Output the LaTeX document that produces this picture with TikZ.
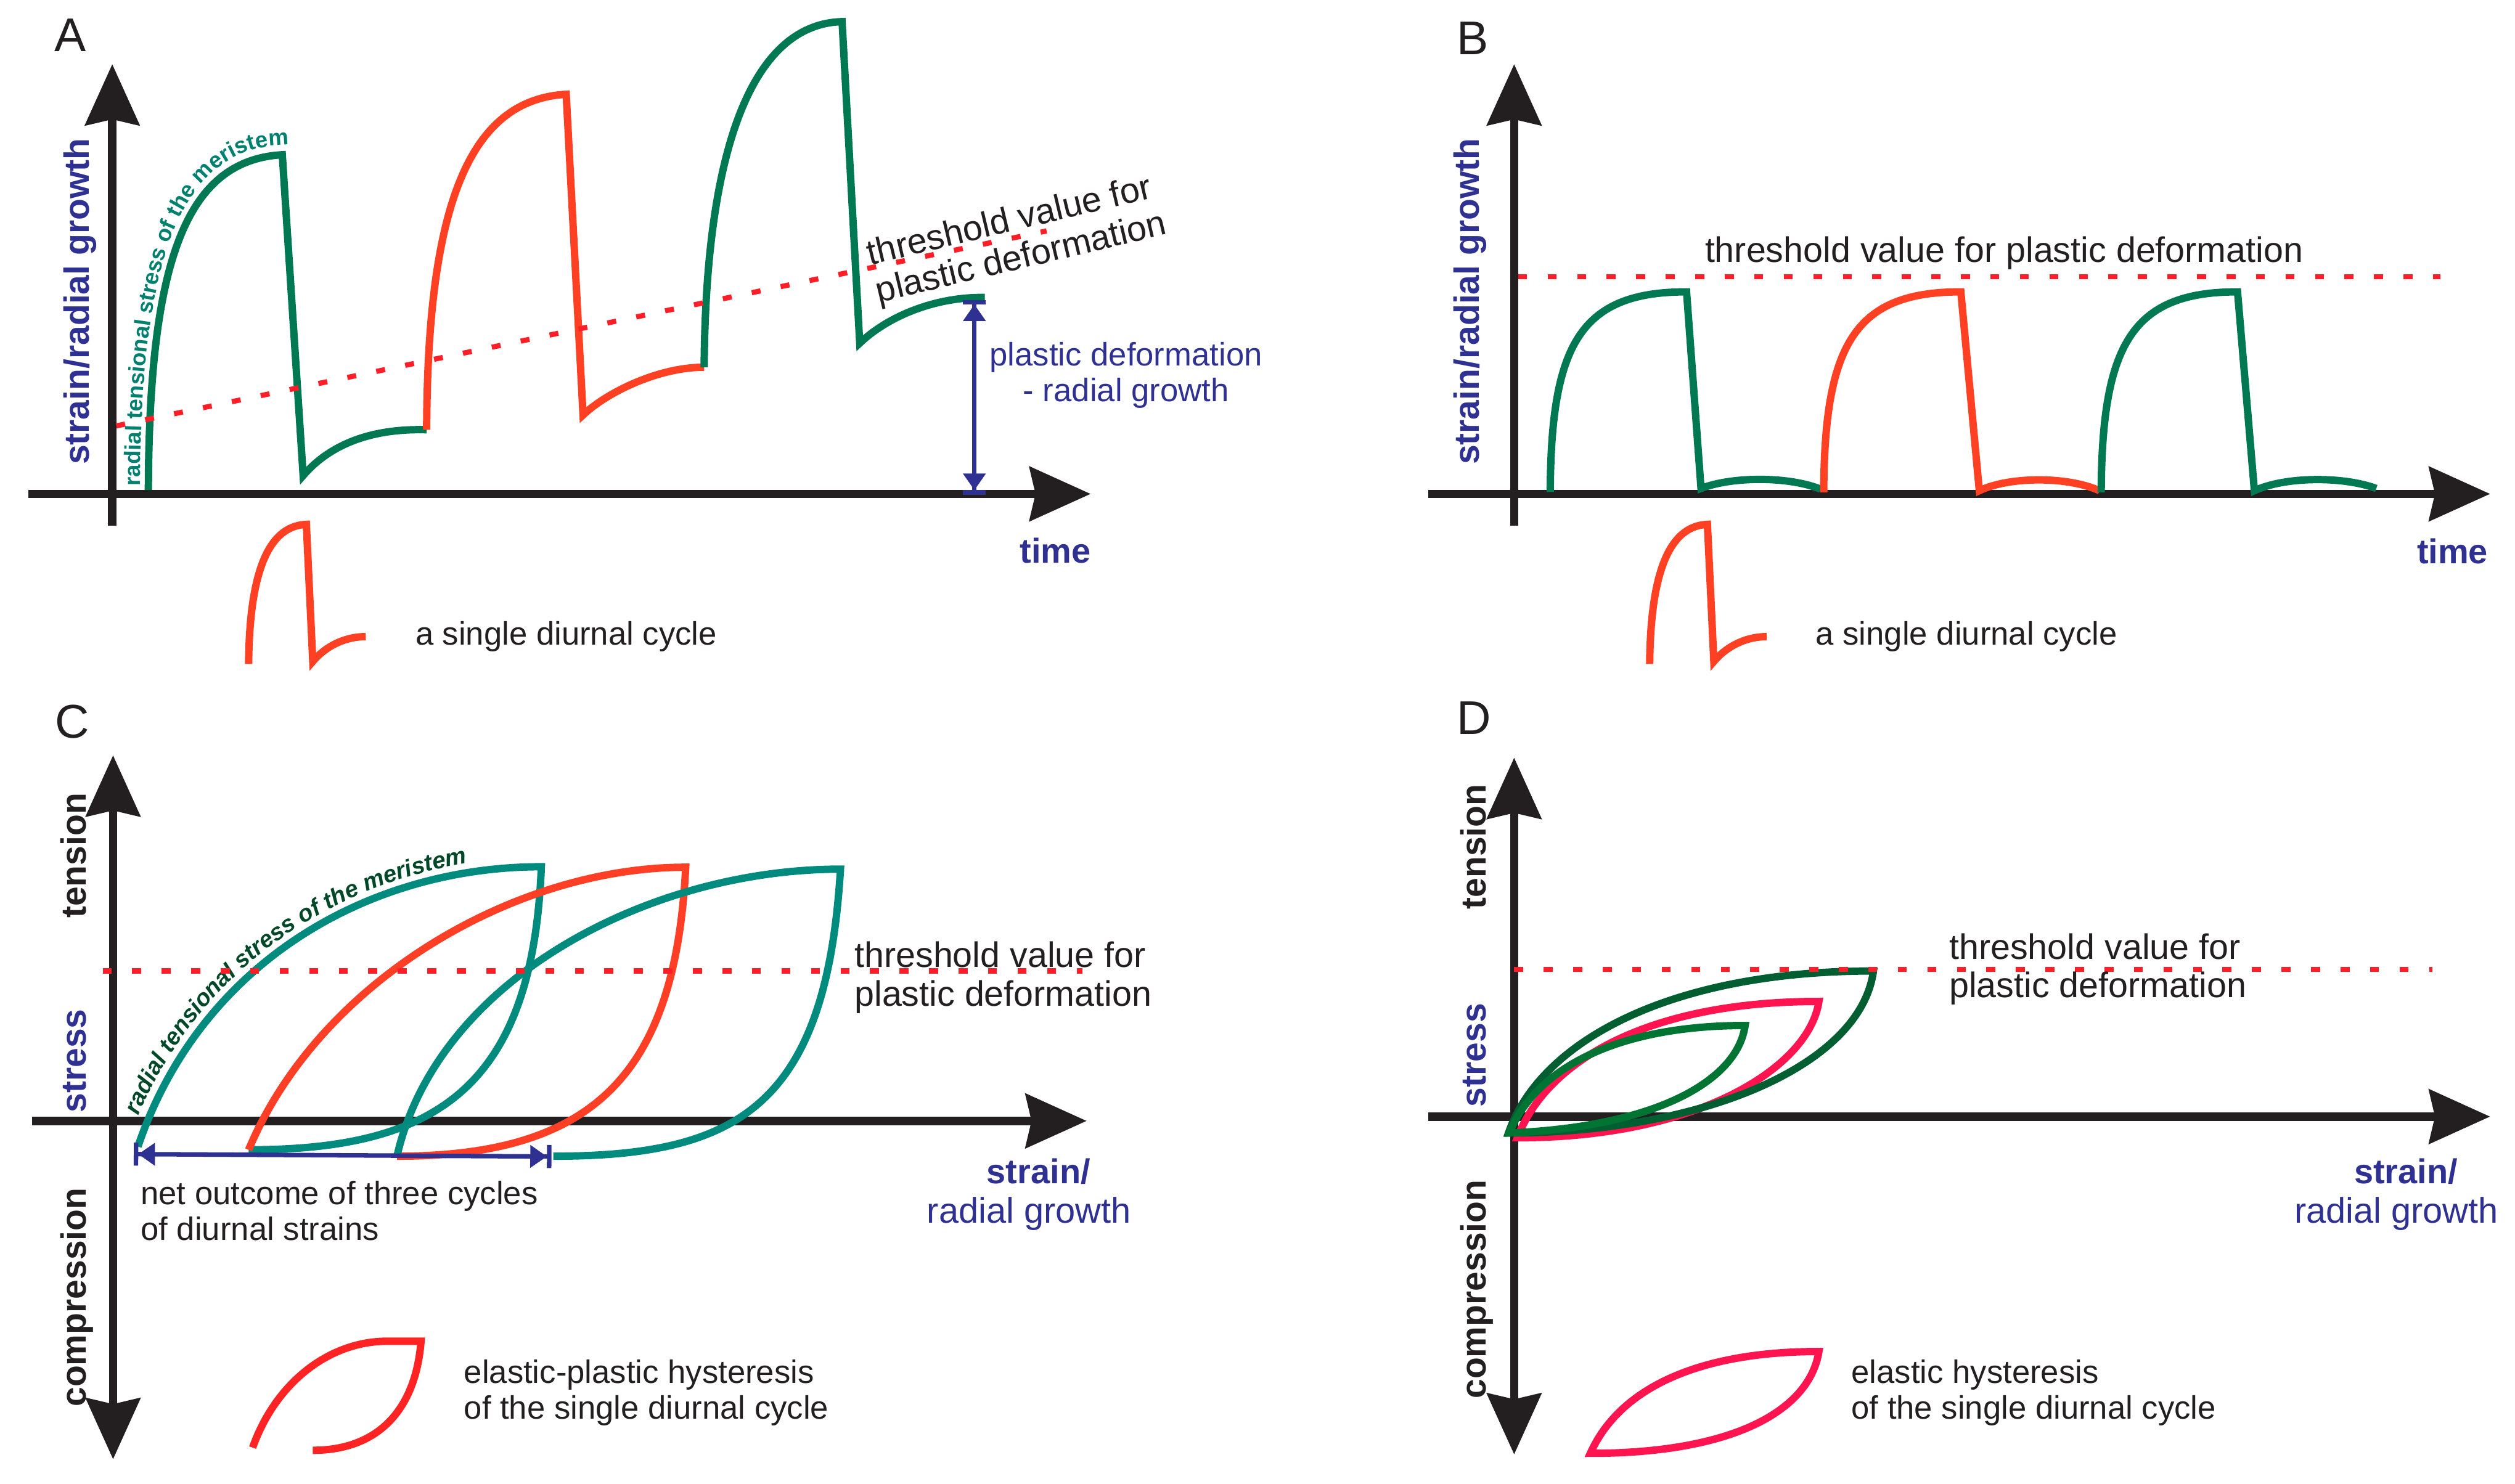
\documentclass[tikz,border=0pt]{standalone}
\usepackage{fontspec}
\setmainfont{Liberation Sans}
\usetikzlibrary{arrows.meta,decorations.text}
\definecolor{axk}{RGB}{35,31,32}
\definecolor{lblue}{RGB}{46,49,146}
\definecolor{gA}{RGB}{0,121,82}
\definecolor{rA}{RGB}{255,64,35}
\definecolor{tealC}{RGB}{0,139,126}
\definecolor{rC}{RGB}{255,62,38}
\definecolor{rL}{RGB}{255,35,35}
\definecolor{pinkD}{RGB}{255,20,80}
\definecolor{dgD}{RGB}{0,94,48}
\definecolor{sgD}{RGB}{0,116,50}
\definecolor{txtA}{RGB}{0,128,110}
\definecolor{txtC}{RGB}{0,72,40}
\definecolor{dotred}{RGB}{255,30,40}
\begin{document}
\begin{tikzpicture}[x=0.25mm,y=-0.25mm,
  stl/.style={Stealth[length=9.5mm,width=8.4mm,inset=0.9mm]},
  axisS/.style={draw=axk,line width=1.3mm,-{Stealth[length=9.5mm,width=8.4mm,inset=0.9mm]}},
  axisD/.style={draw=axk,line width=1.3mm,{Stealth[length=9.5mm,width=8.4mm,inset=0.9mm]}-{Stealth[length=9.5mm,width=8.4mm,inset=0.9mm]}},
  axisN/.style={draw=axk,line width=1.3mm},
  crv/.style={line width=1.15mm,line join=miter},
  thr/.style={draw=dotred,line width=0.8mm,dash pattern=on 1.4mm off 3.2mm},
  barrow/.style={draw=lblue,line width=0.7mm,{Bar[width=3.6mm,line width=0.7mm]Triangle[length=2.6mm,width=3.4mm]}-{Triangle[length=2.6mm,width=3.4mm]Bar[width=3.6mm,line width=0.7mm]}},
  lbl/.style={inner sep=0pt,font=\fontsize{14.4}{15.9}\selectfont,align=left,text=axk},
  thrlbl/.style={inner sep=0pt,font=\fontsize{15.7}{17.1}\selectfont,align=left,text=axk},
  vlab/.style={inner sep=0pt,font=\bfseries\fontsize{15.6}{18}\selectfont,rotate=90,anchor=base},
  panel/.style={inner sep=0pt,font=\fontsize{21}{24}\selectfont,text=axk},
  axlbl/.style={inner sep=0pt,font=\bfseries\fontsize{15.3}{18}\selectfont,text=lblue},
  axlbltwo/.style={inner sep=0pt,font=\fontsize{15.8}{18}\selectfont,text=lblue}]
\useasboundingbox (0,0) rectangle (1568,925.4);
\fill[white] (0,0) rectangle (1568,925.4);

%================ Panel A =================
\node[panel] (labA) at (44,22) {A};
\coordinate (Ax0) at (17.5,308); \coordinate (Ax1) at (680,308);
\coordinate (Ay0) at (70,328);   \coordinate (Ay1) at (70,40);
\draw[axisS] (Ax0) -- (Ax1);
\draw[axisS] (Ay0) -- (Ay1);
\node[vlab,text=lblue] (vA) at (55.7,188) {strain/radial growth};
\node[axlbl] (timeA) at (658,343.5) {time};
% curves
\draw[crv,gA] (92.5,305.5) .. controls (93,165) and (115,100) .. (176,96.5) -- (189,296.6) .. controls (205,278) and (230,267) .. (266,268);
\draw[crv,rA] (266,268) .. controls (266.5,129) and (292,62.3) .. (353,58.8) -- (363.5,258.8) .. controls (378,245) and (410,229) .. (439,229);
\draw[crv,gA] (439,229) .. controls (440,90) and (470,15) .. (525,13.5) -- (536,214) .. controls (555,196) and (585,185) .. (614,185.5);
\path[decorate,decoration={text along path,text align=left,text color=txtA,
  text={|\bfseries\fontsize{10}{12}\selectfont|radial tensional stress of the meristem}}]
  (87.5,303) .. controls (88,163) and (112,93) .. (176,90.5) -- (280,84);
\coordinate (thA0) at (72.5,265.6); \coordinate (thA1) at (652.5,144);
\draw[thr] (thA0) -- (thA1);
\node[thrlbl,rotate=13.4] (thtA) at (634,150) {threshold value for\\plastic deformation};
\coordinate (pdA0) at (607.5,187); \coordinate (pdA1) at (607.5,308.5);
\draw[barrow] (pdA0) -- (pdA1);
\node[lbl,align=center,text=lblue] (pdtA) at (702,234) {plastic deformation\\- radial growth};
% legend
\draw[crv,rA] (155,414) .. controls (155.5,360) and (166,328) .. (191,327) -- (195,412.5) .. controls (203,403) and (215,397) .. (228,397);
\node[lbl] (legA) at (353,397) {a single diurnal cycle};

%================ Panel B =================
\node[panel] (labB) at (918,23.7) {B};
\coordinate (Bx0) at (890.5,308); \coordinate (Bx1) at (1552.5,308);
\coordinate (By0) at (944,328);   \coordinate (By1) at (944,40);
\draw[axisS] (Bx0) -- (Bx1);
\draw[axisS] (By0) -- (By1);
\node[vlab,text=lblue] (vB) at (922.2,188) {strain/radial growth};
\node[axlbl] (timeB) at (1529,343.7) {time};
\draw[crv,gA] (966.5,306.8) .. controls (967,215) and (985,182) .. (1051.5,182) -- (1060.5,304.6) .. controls (1080,297) and (1115,297) .. (1135,305);
\draw[crv,rA] (1137,307) .. controls (1137.5,215) and (1156,182) .. (1222.5,182) -- (1234,306) .. controls (1253,297) and (1289,297) .. (1309,306);
\draw[crv,gA] (1310,307) .. controls (1310.5,215) and (1329,182) .. (1395,182) -- (1405.5,306) .. controls (1425,297) and (1461,297) .. (1481.5,304.6);
\coordinate (thB0) at (946.5,172.5); \coordinate (thB1) at (1521.5,172.5);
\draw[thr] (thB0) -- (thB1);
\node[thrlbl] (thtB) at (1249.5,157.7) {threshold value for plastic deformation};
\draw[crv,rA] (1028.5,414) .. controls (1029,360) and (1039.5,328) .. (1064.5,327) -- (1068.5,412.5) .. controls (1076.5,403) and (1088.5,397) .. (1101.5,397);
\node[lbl] (legB) at (1226,397) {a single diurnal cycle};

%================ Panel C =================
\node[panel] (labC) at (45,450) {C};
\coordinate (Cx0) at (20,699); \coordinate (Cx1) at (677.5,699);
\coordinate (Cy0) at (70.5,910); \coordinate (Cy1) at (70.5,471);
\draw[axisS] (Cx0) -- (Cx1);
\draw[axisD] (Cy0) -- (Cy1);
\node[vlab,text=axk] (tenC) at (53.5,533.6) {tension};
\node[vlab,text=lblue] (strC) at (53.5,661.6) {stress};
\node[vlab,text=axk] (comC) at (53.5,809) {compression};
\node[axlbl] (sC1) at (647.5,730.6) {strain/};
\node[axlbltwo] (sC2) at (641.5,757) {radial growth};
\draw[crv,tealC] (86,715) .. controls (125,600) and (230,540.5) .. (337.5,540.5) .. controls (332,680) and (270,717) .. (155,717);
\draw[crv,rC] (155,717) .. controls (199,612) and (320.5,540.8) .. (427.5,540.8) .. controls (421,670) and (370,721) .. (247.5,721);
\draw[crv,tealC] (247.5,721) .. controls (272.5,611) and (404,542) .. (524,542) .. controls (515,690) and (460,721) .. (345,721);
\path[decorate,decoration={text along path,text align={left indent=4.6mm},text color=txtC,
  text={|\bfseries\itshape\fontsize{10.5}{12}\selectfont|radial tensional stress of the meristem}}]
  (80,713) .. controls (119,597) and (229,534.5) .. (337.5,534.5) -- (400,534.5);
\coordinate (thC0) at (64,605.5); \coordinate (thC1) at (675,605.5);
\draw[thr] (thC0) -- (thC1);
\node[thrlbl,anchor=west] (thtC) at (532.5,609.5) {threshold value for\\plastic deformation};
\coordinate (noC0) at (83.4,719.7); \coordinate (noC1) at (343.8,721.2);
\draw[barrow] (noC0) -- (noC1);
\node[lbl,anchor=west] (noTC) at (87.5,755) {net outcome of three cycles\\of diurnal strains};
\draw[crv,rL] (157.5,902.7) .. controls (172,862) and (205,837) .. (240,836.4) -- (262.5,836.4) .. controls (259,880) and (235,904.4) .. (195,904.4);
\node[lbl,anchor=west] (legC) at (289,868.5) {elastic-plastic hysteresis\\of the single diurnal cycle};

%================ Panel D =================
\node[panel] (labD) at (919,447.8) {D};
\coordinate (Dx0) at (890.5,696.3); \coordinate (Dx1) at (1552.5,696.3);
\coordinate (Dy0) at (944,907); \coordinate (Dy1) at (944,472.5);
\draw[axisS] (Dx0) -- (Dx1);
\draw[axisD] (Dy0) -- (Dy1);
\node[vlab,text=axk] (tenD) at (926.5,528) {tension};
\node[vlab,text=lblue] (strD) at (926.5,658) {stress};
\node[vlab,text=axk] (comD) at (926.5,804) {compression};
\node[axlbl] (sD1) at (1500,730.6) {strain/};
\node[axlbltwo] (sD2) at (1494,757) {radial growth};
\draw[crv,pinkD] (946,709.5) .. controls (965,660) and (1030,624.5) .. (1134,624.5) .. controls (1128,665) and (1060,709.5) .. cycle;
\draw[crv,dgD] (940.5,706.5) .. controls (960,650) and (1040,605.5) .. (1168,605.5) .. controls (1160,665) and (1060,706.5) .. cycle;
\draw[crv,sgD] (941,706.5) .. controls (958,665) and (1010,639.5) .. (1088,639.5) .. controls (1083,675) and (1030,703) .. cycle;
\coordinate (thD0) at (944,604.6); \coordinate (thD1) at (1516.5,604.6);
\draw[thr] (thD0) -- (thD1);
\node[thrlbl,anchor=west] (thtD) at (1215,604.4) {threshold value for\\plastic deformation};
\draw[crv,pinkD] (991.5,906.3) .. controls (1010,865) and (1060,842.8) .. (1134,842.8) .. controls (1128,880) and (1080,906.3) .. cycle;
\node[lbl,anchor=west] (legD) at (1154,868.5) {elastic hysteresis\\of the single diurnal cycle};
\end{tikzpicture}
\end{document}
